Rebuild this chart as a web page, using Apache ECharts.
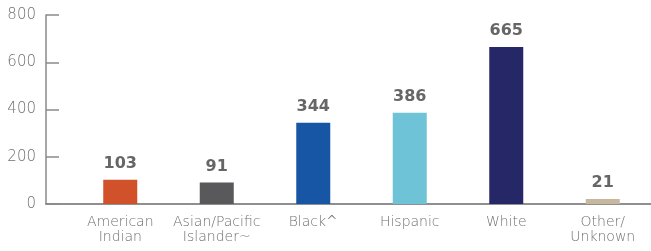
<!DOCTYPE html>
<html>
<head>
<meta charset="utf-8">
<script src="https://cdn.jsdelivr.net/npm/echarts@6/dist/echarts.min.js"></script>
<style>
  html, body { margin: 0; padding: 0; background: #fff; }
  #chart { width: 651px; height: 251px; }
</style>
</head>
<body>
<div id="chart"></div>
<script>
var categories = ['American\nIndian', 'Asian/Pacific\nIslander~', 'Black^', 'Hispanic', 'White', 'Other/\nUnknown'];
var counts = [103, 91, 344, 386, 665, 21];
var barColors = ['#D0512A', '#59595B', '#1756A4', '#6EC3D6', '#262766', '#C6B79E'];
var yTicks = { min: 0, max: 800, step: 200 };

var myChart = echarts.init(document.getElementById('chart'));

var barData = [];
for (var i = 0; i < counts.length; i++) {
    barData.push({ value: counts[i], itemStyle: { color: barColors[i] } });
}

var option = {
    animation: false,
    textStyle: { fontFamily: 'DejaVu Sans' },
    grid: [
        // main plot area, bars start a bit right of the y axis
        { left: 72, right: -8, top: 15, bottom: 47 },
        // only used to draw the long base line from the y axis
        { left: 46, right: 0, top: 15, bottom: 47 }
    ],
    xAxis: [
        {
            type: 'category',
            gridIndex: 0,
            data: categories,
            axisLine: { show: false },
            axisTick: { show: false },
            axisLabel: {
                color: '#707070',
                fontSize: 14,
                fontWeight: 200,
                lineHeight: 15,
                margin: 11,
                interval: 0
            }
        },
        {
            type: 'value',
            gridIndex: 1,
            min: 0,
            max: 1,
            axisLine: { show: true, lineStyle: { color: '#6b6b6b', width: 1.5 } },
            axisTick: { show: false },
            axisLabel: { show: false },
            splitLine: { show: false }
        }
    ],
    yAxis: [
        {
            type: 'value',
            gridIndex: 0,
            min: yTicks.min,
            max: yTicks.max,
            interval: yTicks.step,
            offset: 26,
            axisLine: { show: true, lineStyle: { color: '#8a8a8a', width: 1.5 } },
            axisTick: { show: true, inside: true, length: 13, lineStyle: { color: '#8a8a8a', width: 1.5 } },
            axisLabel: { color: '#707070', fontSize: 15, fontWeight: 200, margin: 10 },
            splitLine: { show: false }
        },
        {
            type: 'value',
            gridIndex: 1,
            show: false
        }
    ],
    series: [
        {
            type: 'bar',
            xAxisIndex: 0,
            yAxisIndex: 0,
            barWidth: 34,
            data: barData,
            label: {
                show: true,
                position: 'top',
                distance: 8,
                color: '#666666',
                fontSize: 16,
                fontWeight: 'bold'
            }
        }
    ]
};

myChart.setOption(option);
</script>
</body>
</html>
